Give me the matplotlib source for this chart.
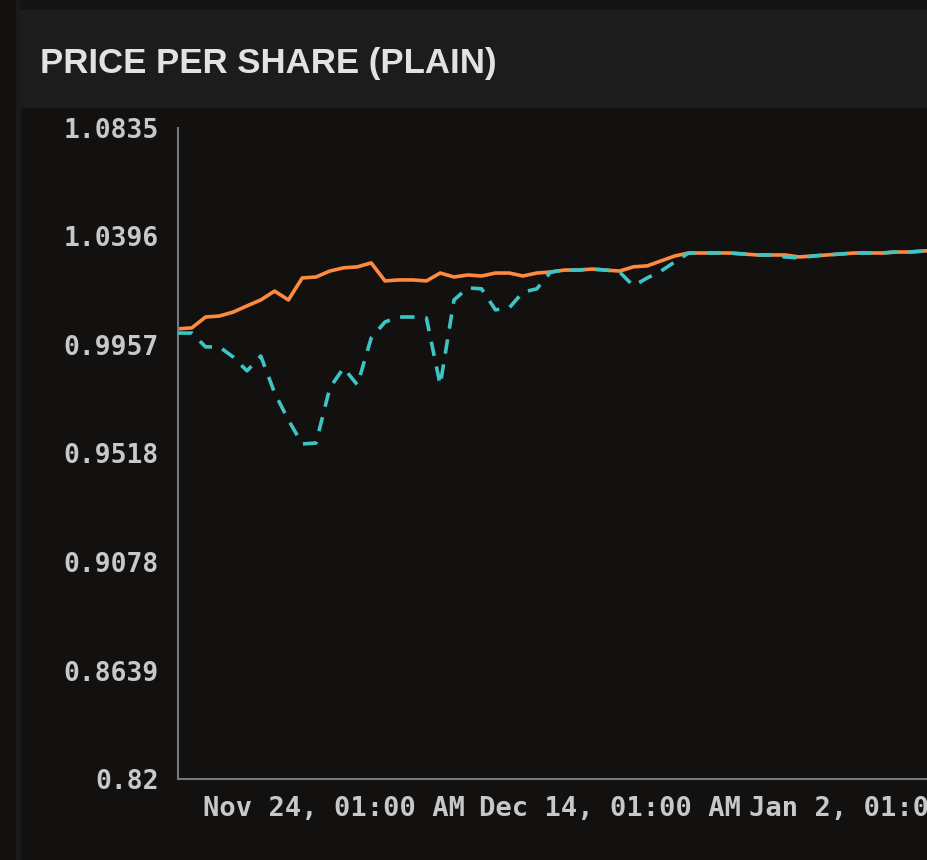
import matplotlib
matplotlib.use("Agg")
from matplotlib import pyplot as plt
from matplotlib.patches import Rectangle
import pandas as pd

# daily share prices
dates = pd.date_range("2021-11-12 18:00", periods=56, freq="D")
price_orange = [1.0022, 1.0026, 1.0070, 1.0074, 1.0090, 1.0115, 1.0139, 1.0175,
                1.0139, 1.0228, 1.0232, 1.0256, 1.0269, 1.0273, 1.0289, 1.0216,
                1.0220, 1.0220, 1.0216, 1.0248, 1.0232, 1.0240, 1.0236, 1.0248,
                1.0248, 1.0236, 1.0248, 1.0252, 1.0260, 1.0260, 1.0264, 1.0260,
                1.0256, 1.0273, 1.0277, 1.0297, 1.0317, 1.0329, 1.0329, 1.0329,
                1.0329, 1.0325, 1.0321, 1.0321, 1.0321, 1.0313, 1.0317, 1.0321,
                1.0325, 1.0329, 1.0329, 1.0329, 1.0333, 1.0333, 1.0337, 1.0341]
price_teal = [1.0005, 1.0005, 0.9949, 0.9949, 0.9908, 0.9852, 0.9912, 0.9763,
              0.9653, 0.9556, 0.9560, 0.9783, 0.9864, 0.9795, 0.9985, 1.0050,
              1.0070, 1.0070, 1.0066, 0.9795, 1.0139, 1.0188, 1.0184, 1.0099,
              1.0107, 1.0171, 1.0184, 1.0252, 1.0260, 1.0260, 1.0264, 1.0260,
              1.0252, 1.0196, 1.0228, 1.0256, 1.0293, 1.0329, 1.0329, 1.0329,
              1.0329, 1.0325, 1.0321, 1.0321, 1.0313, 1.0309, 1.0317, 1.0321,
              1.0325, 1.0329, 1.0329, 1.0329, 1.0333, 1.0333, 1.0337, 1.0341]

y_ticks = [0.82, 0.8639, 0.9078, 0.9518, 0.9957, 1.0396, 1.0835]
x_ticks = pd.to_datetime(["2021-11-24 01:00", "2021-12-14 01:00", "2022-01-02 01:00"])
x_tick_labels = ["Nov 24, 01:00 AM", "Dec 14, 01:00 AM", "Jan 2, 01:00 AM"]

W, H = 927, 860
fig = plt.figure(figsize=(W / 100, H / 100), dpi=100, facecolor="#121110")

# card frame and title bar
fig.patches.append(Rectangle((16 / W, 0), 4 / W, 1, transform=fig.transFigure,
                             color="#1a1a1a", zorder=0))
fig.patches.append(Rectangle((20 / W, 1 - 10 / H), 1, 10 / H, transform=fig.transFigure,
                             color="#141414", zorder=0))
fig.patches.append(Rectangle((20 / W, 1 - 107 / H), 1, 97 / H, transform=fig.transFigure,
                             color="#1c1c1c", zorder=0))
fig.text(40 / W, 1 - 64 / H, "PRICE PER SHARE (PLAIN)", color="#e2e2e2",
         fontsize=25, fontweight="bold", family="Liberation Sans",
         va="center", ha="left")

# axes extend past the right edge (chart is cropped there)
left, bottom, top = 178, 779, 128
right = 178 + 60 * 13.8
ax = fig.add_axes([left / W, 1 - bottom / H, (right - left) / W, (bottom - top) / H])
ax.set_facecolor("#121110")

ax.plot(dates, price_orange, color="#ff8a3d", lw=2.6, zorder=2)
ax.plot(dates, price_teal, color="#3ec4c4", lw=2.6, dashes=(4.0, 3.0), zorder=3)

ax.set_ylim(0.82, 1.0835)
ax.set_xlim(dates[0], dates[0] + pd.Timedelta(days=60))
ax.set_yticks(y_ticks)
ax.set_yticklabels([str(v) for v in y_ticks])
ax.set_xticks(x_ticks)
ax.set_xticklabels(x_tick_labels)

for s in ["top", "right"]:
    ax.spines[s].set_visible(False)
for s in ["left", "bottom"]:
    ax.spines[s].set_color("#777777")
    ax.spines[s].set_linewidth(1.5)

ax.tick_params(length=0, labelcolor="#c8c8c8")
ax.tick_params(axis="y", pad=14, labelsize=19)
ax.tick_params(axis="x", pad=12, labelsize=19.5)
for lab in ax.get_xticklabels() + ax.get_yticklabels():
    lab.set_family("DejaVu Sans Mono")
    lab.set_fontweight("bold")

fig.savefig("out.png", dpi=100, facecolor=fig.get_facecolor())
